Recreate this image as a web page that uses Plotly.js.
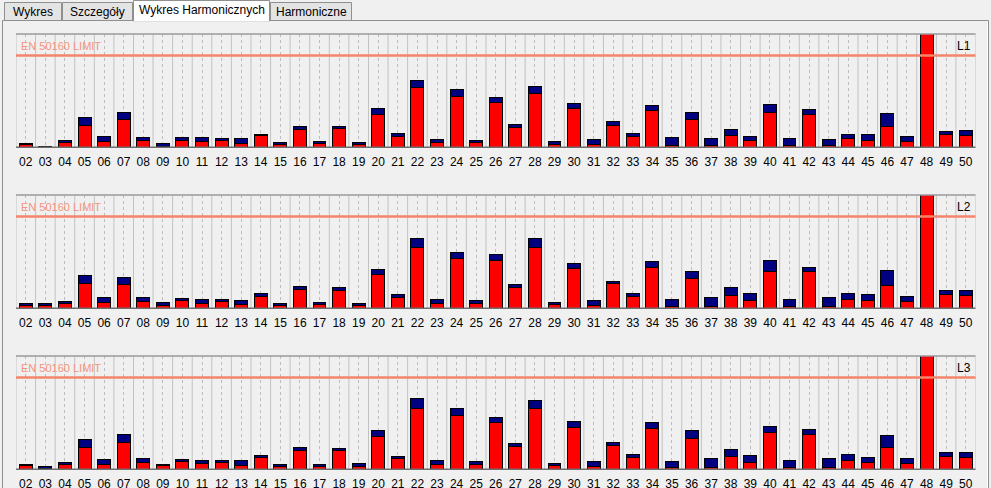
<!DOCTYPE html>
<html>
<head>
<meta charset="utf-8">
<script src="https://cdn.plot.ly/plotly-3.0.1.min.js"></script>
<style>
html,body{margin:0;padding:0;background:#f0f0f0;}
#chart{width:991px;height:488px;}
</style>
</head>
<body>
<div id="chart"></div>
<script>
// Harmonic orders (x categories) and tick labels
const harmonics = [2,3,4,5,6,7,8,9,10,11,12,13,14,15,16,17,18,19,20,21,22,23,24,25,26,27,28,29,30,31,32,33,34,35,36,37,38,39,40,41,42,43,44,45,46,47,48,49,50];
const tickLabels = ["02","03","04","05","06","07","08","09","10","11","12","13","14","15","16","17","18","19","20","21","22","23","24","25","26","27","28","29","30","31","32","33","34","35","36","37","38","39","40","41","42","43","44","45","46","47","48","49","50"];
const phaseNames = ["L1","L2","L3"];
const limitLabel = "EN 50160 LIMIT";
const limitValue = 91.5;
const yMax = 113;

// Lower (red) part of each bar
const L1red  = [2.7,0.7,4.7,21.7,5.7,27.7,7,1,7,6,7,4,12,2.7,18,3.7,18.7,2.7,33,11,60,5,51,5,45,19.7,54,3,38.3,2.7,22,10.7,37,1.7,28,1.7,12,7,35,1.7,33,1.7,9,7,21,6,150,13,12];
// Upper (navy) part of each bar
const L1navy = [1.3,0.3,1.6,7.6,4.6,6.6,2.3,2.3,2.3,3.3,1.3,4.3,1,1.6,2.3,1.6,1.6,1.6,5.3,2.3,6.3,2.3,6.3,1.3,4.3,2.6,6.3,2.3,5,4.6,3.3,2.6,4.3,7.6,6.3,6.6,5.3,3.3,7.7,6.6,4.3,5.6,3.3,5.3,12.3,4.3,0,2.3,4.3];

const L2red  = [2.7,2.7,5,25,6,24,7,3,8,5,7,4,12,3,19,4,18,2.7,34,11,61,5,50,5,48,21,61,4,40,3,24.3,12,41,2,30,2,13,8,37,2,37,2,9,8,23,7,150,14,13];
const L2navy = [2,2,1.3,7.3,4.3,6.3,3.3,2.3,1.3,3.3,1.3,3.3,2.3,1.7,2.3,1.7,2.3,2,4.3,2.3,8.3,3.3,5.3,2.3,5.3,2.3,8.3,1.3,4.3,4.3,2,2.3,5.3,6.3,6.3,8.3,7.3,6.3,10.3,6.3,3.3,8.3,5.3,5.3,14.3,4.3,0,3.3,4.3];

const L3red  = [3.7,1,5,22,5,27,7,3.3,8,6,7,4,11.7,3,19,3,19,3,33,10.7,61,5,54,5,47,23,61,4,42,3,24,12,41,2,31,2,13,7,37,2,35,2,9,7,22,6,150,13,12];
const L3navy = [0.6,1.3,1.3,7.3,4.3,7.3,3.3,1,1.3,2.3,1.3,4.3,1.6,1.3,2.3,1.3,1.3,2.3,5.3,1.6,9.3,3.3,6.3,2.3,4.3,2.3,7.3,1.3,5.3,4.3,2.3,2.3,5.3,5.3,7.3,8.3,6.3,6.3,5.3,6.3,4.3,8.3,5.3,4.3,11.3,4.3,0,3.3,4.3];

const tabs = ["Wykres","Szczegóły","Wykres Harmonicznych","Harmoniczne"];
const activeTab = 2;

const W = 991, H = 488;
const px = x => x / W;
const py = y => 1 - y / H;

const redSeries = [L1red, L2red, L3red];
const navySeries = [L1navy, L2navy, L3navy];
// panel pixel extents (top, bottom)
const panels = [[34,147.3],[195,308.3],[356,469.3]];
const boundaries = harmonics.map(h => h - 0.5).concat([harmonics[harmonics.length-1] + 0.5]);

const FONT = "Liberation Sans, Arial, sans-serif";
const data = [];
const layout = {
  width: W, height: H,
  margin: {l:0, r:0, t:0, b:0},
  paper_bgcolor: "#f0f0f0",
  plot_bgcolor: "#f0f0f0",
  showlegend: false,
  barmode: "stack",
  font: {family: FONT, size: 11, color: "#000"},
  shapes: [],
  annotations: []
};

// tab control decoration
layout.shapes.push({type:"rect", xref:"paper", yref:"paper", x0:px(2.5), x1:px(988.5), y0:py(20.5), y1:py(500),
  line:{color:"#8e8f8f", width:1}, fillcolor:"rgba(0,0,0,0)", layer:"below"});
layout.shapes.push({type:"line", xref:"paper", yref:"paper", x0:px(987.5), x1:px(987.5), y0:py(21.5), y1:py(500),
  line:{color:"#ffffff", width:1}, layer:"below"});
const tabX = [[4,62],[62,133],[133,270],[270,352]];
tabs.forEach((t,i) => {
  const [a,b] = tabX[i];
  const active = i === activeTab;
  layout.shapes.push({type:"rect", xref:"paper", yref:"paper",
    x0:px(a+0.5), x1:px(b-0.5), y0:py(active ? 21 : 20.5), y1:py(active ? 0.5 : 2.5),
    line:{color:"#8e8f8f", width:1}, fillcolor: active ? "#ffffff" : "#e4e4e4", layer:"below"});
  if (active) {
    layout.shapes.push({type:"line", xref:"paper", yref:"paper", x0:px(a+1), x1:px(b-1), y0:py(20.5), y1:py(20.5),
      line:{color:"#ffffff", width:2}, layer:"below"});
  }
  layout.annotations.push({xref:"paper", yref:"paper", x:px((a+b)/2), y:py(active ? 10.5 : 12),
    text:t, showarrow:false, xanchor:"center", yanchor:"middle",
    font:{family:FONT, size:12, color:"#000"}});
});

panels.forEach((p, i) => {
  const sfx = i === 0 ? "" : String(i+1);
  const xa = "x" + sfx, ya = "y" + sfx;
  data.push({type:"bar", x:harmonics, y:redSeries[i], xaxis:xa, yaxis:ya, width:0.66,
    marker:{color:"#ff0000", line:{color:"#000000", width:1}}, hoverinfo:"skip"});
  data.push({type:"bar", x:harmonics, y:navySeries[i], xaxis:xa, yaxis:ya, width:0.66,
    marker:{color:"#000080", line:{color:"#000000", width:1}}, hoverinfo:"skip"});
  layout["xaxis" + sfx] = {
    domain:[px(16), px(975.5)], anchor: ya,
    range:[harmonics[0]-0.5, harmonics[harmonics.length-1]+0.5],
    tickmode:"array", tickvals:harmonics, ticktext:tickLabels,
    ticks:"", ticklabelstandoff:6, tickfont:{family:FONT, size:12, color:"#000"},
    showgrid:true, gridcolor:"#bdbdbd", griddash:"dot", gridwidth:1,
    showline:false, zeroline:false, fixedrange:true
  };
  layout["yaxis" + sfx] = {
    domain:[py(p[1]), py(p[0])], anchor: xa,
    range:[0, yMax], showticklabels:false, showgrid:false, zeroline:false,
    showline:false, fixedrange:true
  };
  // solid category boundary lines
  boundaries.forEach(bx => {
    layout.shapes.push({type:"line", xref:xa, yref:ya+" domain", x0:bx, x1:bx, y0:0, y1:1,
      line:{color:"#c2c2c2", width:1}, layer:"below"});
  });
  // frame top and baseline
  layout.shapes.push({type:"line", xref:xa+" domain", yref:ya+" domain", x0:0, x1:1, y0:1, y1:1,
    line:{color:"#9a9a9e", width:1.5}, layer:"above"});
  layout.shapes.push({type:"line", xref:xa+" domain", yref:ya+" domain", x0:0, x1:1, y0:0, y1:0,
    line:{color:"#6e6e6e", width:1.5}, layer:"above"});
  // limit line
  layout.shapes.push({type:"line", xref:xa+" domain", yref:ya, x0:0, x1:1, y0:limitValue, y1:limitValue,
    line:{color:"#f5846c", width:2.5}, layer:"above"});
  layout.annotations.push({xref:xa+" domain", yref:ya, x:0, y:limitValue, xshift:3, yshift:10,
    text:limitLabel, showarrow:false, xanchor:"left", yanchor:"middle",
    font:{family:FONT, size:11, color:"#f4937f"}});
  layout.annotations.push({xref:xa+" domain", yref:ya+" domain", x:1, y:1, xshift:-3, yshift:-12,
    text:phaseNames[i], showarrow:false, xanchor:"right", yanchor:"middle",
    font:{family:FONT, size:12, color:"#000"}});
});

Plotly.newPlot("chart", data, layout, {staticPlot:true, displayModeBar:false});
</script>
</body>
</html>
